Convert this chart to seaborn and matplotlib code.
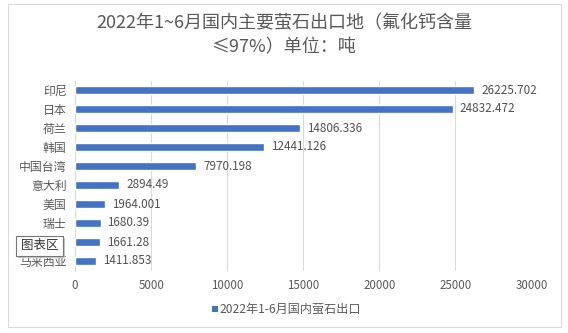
import matplotlib
matplotlib.use("Agg")
import matplotlib.pyplot as plt
import seaborn as sns
import pandas as pd
from matplotlib.patches import Rectangle

categories = ["印尼", "日本", "荷兰", "韩国", "中国台湾", "意大利", "美国", "瑞士", "越南", "马来西亚"]
values = [26225.702, 24832.472, 14806.336, 12441.126, 7970.198, 2894.49, 1964.001, 1680.39, 1661.28, 1411.853]
value_labels = ["26225.702", "24832.472", "14806.336", "12441.126", "7970.198", "2894.49", "1964.001", "1680.39", "1661.28", "1411.853"]
x_ticks = [0, 5000, 10000, 15000, 20000, 25000, 30000]
title = "2022年1~6月国内主要萤石出口地（氟化钙含量\n≤97%）单位：吨"
series_name = "2022年1-6月国内萤石出口"

sns.set_theme(style="white")
plt.rcParams['font.family'] = ['Noto Sans CJK SC', 'DejaVu Sans']

df = pd.DataFrame({"地区": categories, "出口": values})

fig = plt.figure(figsize=(5.68, 3.33), dpi=100)
ax = fig.add_axes([75/568, 1-270.5/333, (531.5-75)/568, (270.5-80.5)/333])

bar_color = "#4472C4"
sns.barplot(data=df, y="地区", x="出口", orient="h", color=bar_color, width=0.4,
            ax=ax, saturation=1, zorder=3)

ax.set_xlim(0, 30000)
ax.set_xticks(x_ticks)
ax.set_xticklabels([str(t) for t in x_ticks], fontsize=8.3, color="#595959")
ax.tick_params(axis='x', length=0, pad=6)
ax.tick_params(axis='y', length=0, pad=6, labelsize=8.6, labelcolor="#595959")
ax.set_xlabel("")
ax.set_ylabel("")
ax.grid(axis='x', color="#D9D9D9", linewidth=0.8, zorder=0)
for s in ["top", "right", "bottom"]:
    ax.spines[s].set_visible(False)
ax.spines["left"].set_color("#D9D9D9")
ax.spines["left"].set_linewidth(0.8)

for cont in ax.containers:
    ax.bar_label(cont, labels=value_labels, padding=5, fontsize=8.4, color="#505050")

fig.text(0.5, 1-35/333, title, ha="center", va="center", fontsize=13,
         color="#595959", linespacing=1.4)

# legend
fig.patches.append(Rectangle((212/568, 1-312/333), 6/568, 6/333, transform=fig.transFigure,
                             facecolor=bar_color, edgecolor="none"))
fig.text(219/568, 1-309/333, series_name, ha="left", va="center", fontsize=8.7, color="#595959")

# chart border
fig.patches.append(Rectangle((8/568, 1-327/333), (561-8)/568, (327-4)/333, transform=fig.transFigure,
                             facecolor="none", edgecolor="#D9D9D9", linewidth=0.8))

# tooltip
fig.patches.append(Rectangle((18/568, 1-258/333), 47/568, 20/333, transform=fig.transFigure,
                             facecolor="#C8C8C8", edgecolor="none", zorder=9))
fig.patches.append(Rectangle((16/568, 1-256/333), 47/568, 20/333, transform=fig.transFigure,
                             facecolor="white", edgecolor="#767676", linewidth=0.8, zorder=10))
fig.text(39.5/568, 1-246/333, "图表区", ha="center", va="center", fontsize=9, color="#333333", zorder=11)

fig.savefig("out.png", dpi=100)
